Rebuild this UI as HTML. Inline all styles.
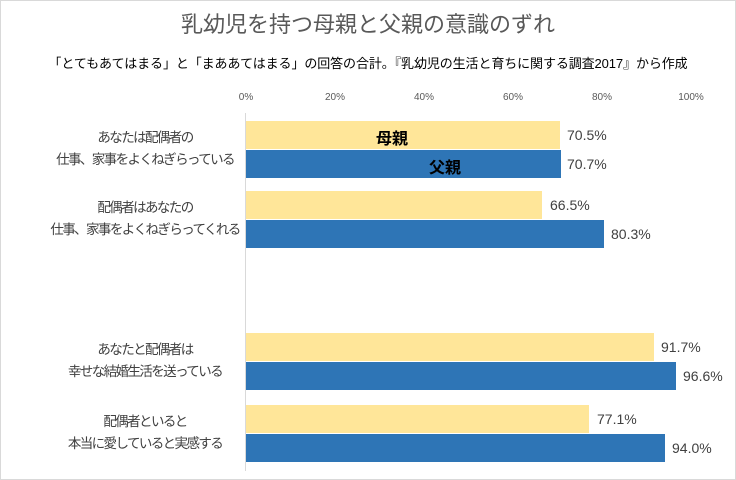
<!DOCTYPE html>
<html><head><meta charset="utf-8"><style>
body{margin:0;background:#fff}
.c{position:relative;width:734px;height:478px;border:1px solid #d9d9d9;background:#fff;font-family:"Liberation Sans","Noto Sans CJK JP",sans-serif;overflow:hidden}
.t{position:absolute;left:0;width:734px;top:6px;text-align:center;font-size:22px;color:#595959}
.s{position:absolute;left:0;width:734px;top:52px;text-align:center;font-size:13px;color:#000;letter-spacing:-0.1px}
.tk{position:absolute;top:91px;font-size:10px;color:#595959;transform:translateX(-50%)}
.ax{position:absolute;left:244px;top:112px;width:1px;height:358px;background:#d9d9d9}
.b{position:absolute;left:245px;height:28px}
.y{background:#ffe699}.bl{background:#2e75b6}
.v{position:absolute;font-size:14px;color:#404040}
.l{position:absolute;left:26px;width:236px;text-align:center;font-size:13.5px;letter-spacing:-1.6px;color:#404040;line-height:22px}
.in{position:absolute;font-size:16px;font-weight:bold;color:#000}
</style></head><body><div class="c">
<div class="t">乳幼児を持つ母親と父親の意識のずれ</div>
<div class="s">「とてもあてはまる」と「まああてはまる」の回答の合計。『乳幼児の生活と育ちに関する調査2017』から作成</div>
<div class="tk" style="left:245px">0%</div><div class="tk" style="left:334px">20%</div><div class="tk" style="left:423px">40%</div><div class="tk" style="left:512px">60%</div><div class="tk" style="left:601px">80%</div><div class="tk" style="left:690px">100%</div>
<div class="ax"></div>
<div class="b y" style="top:120px;width:314px"></div><div class="v" style="left:566px;top:126px">70.5%</div>
<div class="b bl" style="top:149px;width:315px"></div><div class="v" style="left:566px;top:155px">70.7%</div>
<div class="in" style="left:375px;top:124px">母親</div><div class="in" style="left:428px;top:153px">父親</div>
<div class="b y" style="top:190px;width:296px"></div><div class="v" style="left:549px;top:196px">66.5%</div>
<div class="b bl" style="top:219px;width:358px"></div><div class="v" style="left:610px;top:225px">80.3%</div>
<div class="b y" style="top:332px;width:408px"></div><div class="v" style="left:660px;top:338px">91.7%</div>
<div class="b bl" style="top:361px;width:430px"></div><div class="v" style="left:682px;top:367px">96.6%</div>
<div class="b y" style="top:404px;width:343px"></div><div class="v" style="left:596px;top:410px">77.1%</div>
<div class="b bl" style="top:433px;width:419px"></div><div class="v" style="left:671px;top:439px">94.0%</div>
<div class="l" style="top:126px">あなたは配偶者の<br>仕事、家事をよくねぎらっている</div>
<div class="l" style="top:196px">配偶者はあなたの<br>仕事、家事をよくねぎらってくれる</div>
<div class="l" style="top:338px">あなたと配偶者は<br>幸せな結婚生活を送っている</div>
<div class="l" style="top:410px">配偶者といると<br>本当に愛していると実感する</div>
</div></body></html>
